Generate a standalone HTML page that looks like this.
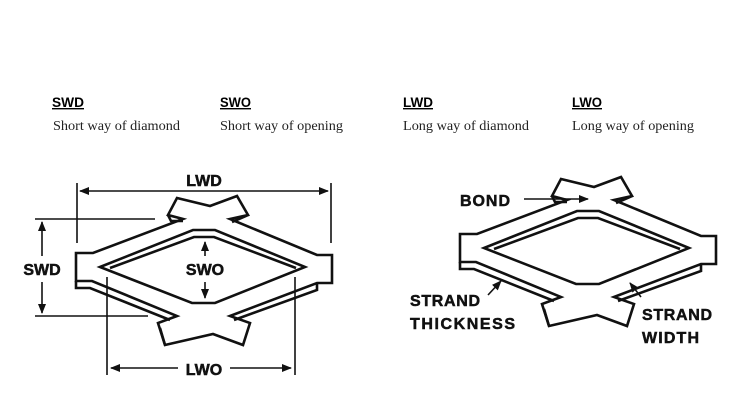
<!DOCTYPE html>
<html><head><meta charset="utf-8"><style>
html,body{margin:0;padding:0;background:#fff;}
svg{display:block}
.h{font-family:"Liberation Sans",sans-serif;font-weight:bold;font-size:14px;text-decoration:underline;}
.b{font-family:"Liberation Serif",serif;font-size:14px;fill:#222}
.l{font-family:"Liberation Sans",sans-serif;font-weight:bold;font-size:16px;fill:#111;stroke:#111;stroke-width:0.5}
</style></head><body>
<svg width="750" height="407" viewBox="0 0 750 407" xmlns="http://www.w3.org/2000/svg">
<defs>
<marker id="a" markerWidth="10" markerHeight="8" refX="9" refY="4" orient="auto-start-reverse" markerUnits="userSpaceOnUse"><path d="M0,0 L10,4 L0,8 Z" fill="#111"/></marker>
<g id="mesh" fill="none" stroke="#111" stroke-width="2.6" stroke-linejoin="miter">
<polygon fill="#fff" points="76,253 93,253 183,219 168,215 177,198 210,206 237,196 248,215 230,219 317,255 332,255 332,283 317,283 230,316 250,323 243,345 213,334 165,345 158,323 177,316 92,281 76,281"/>
<polyline points="76,281 76,288 90,288 170,320"/>
<polyline points="317,283 317,290 234,320"/>
<polyline points="160,328 165,345"/>
<polyline points="168,215 171,221 183,221"/>
<polyline points="248,215 232,222"/>
<polygon points="100,267 193,230 215,230 305,267 215,303 192,303"/>
<polyline points="110,268 194,237 214,237 296,268"/>
</g>
</defs>
<text x="52" y="107" class="h" textLength="32" lengthAdjust="spacingAndGlyphs">SWD</text>
<text x="53" y="130" class="b" textLength="127" lengthAdjust="spacingAndGlyphs">Short way of diamond</text>
<text x="220" y="107" class="h" textLength="31" lengthAdjust="spacingAndGlyphs">SWO</text>
<text x="220" y="130" class="b" textLength="123" lengthAdjust="spacingAndGlyphs">Short way of opening</text>
<text x="403" y="107" class="h" textLength="30" lengthAdjust="spacingAndGlyphs">LWD</text>
<text x="403" y="130" class="b" textLength="126" lengthAdjust="spacingAndGlyphs">Long way of diamond</text>
<text x="572" y="107" class="h" textLength="30" lengthAdjust="spacingAndGlyphs">LWO</text>
<text x="572" y="130" class="b" textLength="122" lengthAdjust="spacingAndGlyphs">Long way of opening</text>

<use href="#mesh"/>
<g stroke="#111" stroke-width="1.6" fill="none">
<line x1="77" y1="183" x2="77" y2="243"/><line x1="331" y1="183" x2="331" y2="243"/>
<line x1="80" y1="191" x2="328" y2="191" marker-end="url(#a)" marker-start="url(#a)"/>
<line x1="35" y1="219" x2="155" y2="219"/><line x1="35" y1="316" x2="148" y2="316"/>
<line x1="42" y1="256" x2="42" y2="222" marker-end="url(#a)"/>
<line x1="42" y1="282" x2="42" y2="313" marker-end="url(#a)"/>
<line x1="205" y1="256" x2="205" y2="242" marker-end="url(#a)"/>
<line x1="205" y1="282" x2="205" y2="298" marker-end="url(#a)"/>
<line x1="107" y1="277" x2="107" y2="375"/><line x1="295" y1="277" x2="295" y2="375"/>
<line x1="178" y1="368" x2="111" y2="368" marker-end="url(#a)"/>
<line x1="230" y1="368" x2="291" y2="368" marker-end="url(#a)"/>
</g>
<text x="204" y="186" class="l" text-anchor="middle">LWD</text>
<text x="42" y="275" class="l" text-anchor="middle">SWD</text>
<text x="205" y="275" class="l" text-anchor="middle">SWO</text>
<text x="204" y="375" class="l" text-anchor="middle">LWO</text>

<use href="#mesh" transform="translate(384,-19)"/>
<g stroke="#111" stroke-width="1.6">
<line x1="524" y1="199" x2="588" y2="199" marker-end="url(#a)"/>
<line x1="488" y1="295" x2="501" y2="281" marker-end="url(#a)"/>
<line x1="641" y1="297" x2="630" y2="283" marker-end="url(#a)"/>
</g>
<text x="460" y="206" class="l" textLength="50" lengthAdjust="spacing">BOND</text>
<text x="410" y="306" class="l" textLength="70" lengthAdjust="spacing">STRAND</text>
<text x="410" y="329" class="l" textLength="105" lengthAdjust="spacing">THICKNESS</text>
<text x="642" y="320" class="l" textLength="70" lengthAdjust="spacing">STRAND</text>
<text x="642" y="343" class="l" textLength="57" lengthAdjust="spacing">WIDTH</text>
</svg>
</body></html>
